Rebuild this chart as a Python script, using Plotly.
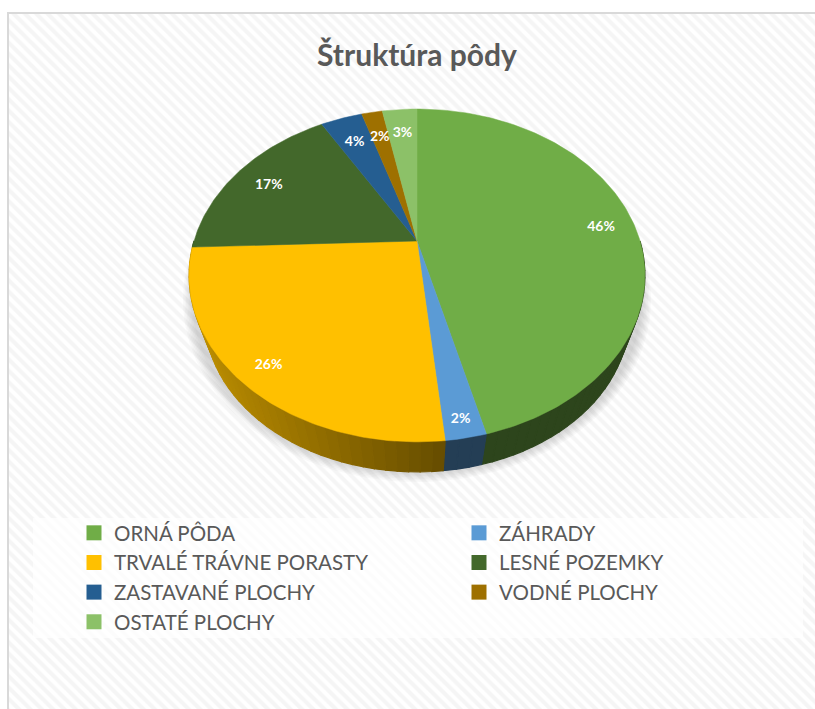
import math
import numpy as np
import plotly.graph_objects as go

# ---- data ----
categories = ["ORNÁ PÔDA", "ZÁHRADY", "TRVALÉ TRÁVNE PORASTY", "LESNÉ POZEMKY",
              "ZASTAVANÉ PLOCHY", "VODNÉ PLOCHY", "OSTATÉ PLOCHY"]
values = [46.0, 2.4, 26.0, 17.2, 3.6, 1.8, 3.0]
colors = ["#70AD47", "#5B9BD5", "#FFC000", "#43682B", "#255E91", "#9E7000", "#8CC168"]
title_text = "Štruktúra pôdy"
label_radius = [0.85, 0.91, 0.875, 0.82, 0.80, 0.80, 0.81]
FONT = "Lato"

# ---- projection of the tilted disc (perspective) ----
CX, CY, A, B, C = 417.0, 241.0, 223.0, -109.4, 0.207
ELL_CY, SIDE_SCALE, SIDE_BOTTOM = 275.5, 0.93, 472.0


def project(r, t):
    sx, cy = r * np.sin(t), r * np.cos(t)
    w = 1 + C * cy
    return CX + A * sx / w, (B * cy + CY) / w


def lower(x, y):
    cy2 = SIDE_BOTTOM - 166.5 * SIDE_SCALE
    return CX + SIDE_SCALE * (x - CX), cy2 + SIDE_SCALE * (y - ELL_CY)


def shade(hex_color, f):
    r, g, b = [int(hex_color[i:i + 2], 16) for i in (1, 3, 5)]
    return f"rgb({r * f:.0f},{g * f:.0f},{b * f:.0f})"


total = sum(values)
edges = np.cumsum([0] + values) / total * 2 * math.pi
fig = go.Figure()

# hatched chart area
fig.add_trace(go.Scatter(x=[8, 815, 815, 8, 8], y=[13, 13, 709, 709, 13], mode="lines",
                         fill="toself", line=dict(width=0), fillcolor="white", hoverinfo="skip",
                         fillpattern=dict(shape="\\", size=8, solidity=0.5, fgcolor="#F5F5F5",
                                          bgcolor="white", fillmode="replace"),
                         showlegend=False))
# legend panel
fig.add_trace(go.Scatter(x=[33, 803, 803, 33, 33], y=[518, 518, 638, 638, 518], mode="lines",
                         fill="toself", line=dict(width=0), fillcolor="rgba(255,255,255,0.72)",
                         hoverinfo="skip", showlegend=False))

# soft shadow
tt = np.linspace(0, 2 * math.pi, 181)
for e in np.arange(10, 0, -1.5):
    fig.add_trace(go.Scatter(x=CX + (224 + e) * np.cos(tt), y=300 + (172 + e) * np.sin(tt),
                             mode="lines", fill="toself", line=dict(width=0),
                             fillcolor="rgba(90,90,90,0.035)", hoverinfo="skip", showlegend=False))

# side wall, drawn as narrow shaded strips
for i, col in enumerate(colors):
    t0, t1 = edges[i], edges[i + 1]
    if t1 <= math.pi / 2 or t0 >= 3 * math.pi / 2:
        continue
    lo, hi = max(t0, math.pi / 2), min(t1, 3 * math.pi / 2)
    n = max(2, int((hi - lo) / math.radians(2.5)))
    g = np.linspace(lo, hi, n + 1)
    for a, b in zip(g[:-1], g[1:]):
        xa, ya = project(1.0, a)
        xb, yb = project(1.0, b)
        xc, yc = lower(xb, yb)
        xd, yd = lower(xa, ya)
        xm = (xa + xb) / 2
        f = 0.4 if xm > 445 else 0.4 + 0.32 * (445 - xm) / 240
        c = shade(col, f)
        fig.add_trace(go.Scatter(x=[xa, xb, xc, xd, xa], y=[ya, yb, yc, yd, ya], mode="lines",
                                 fill="toself", fillcolor=c, line=dict(width=1.2, color=c),
                                 hoverinfo="skip", showlegend=False))

# top face
for i, (name, col) in enumerate(zip(categories, colors)):
    g = np.linspace(edges[i], edges[i + 1], max(3, int(values[i] * 4)))
    px, py = project(1.0, g)
    fig.add_trace(go.Scatter(x=np.r_[CX, px, CX], y=np.r_[CY, py, CY], mode="lines",
                             fill="toself", fillcolor=col, line=dict(width=0.5, color=col),
                             name=name, text=f"{name}: {values[i]:.1f} %", hoverinfo="text",
                             showlegend=False))

# data labels
mids = (edges[:-1] + edges[1:]) / 2
lx, ly = project(np.array(label_radius), mids)
fig.add_trace(go.Scatter(x=lx, y=ly + 3, mode="text", text=[f"{v:.0f}%" for v in values],
                         textposition="middle center",
                         textfont=dict(family=FONT, size=14, color="white", weight="bold"),
                         hoverinfo="skip", showlegend=False))

# legend entries: two columns, one legend each
for i, (name, col) in enumerate(zip(categories, colors)):
    fig.add_trace(go.Scatter(x=[None], y=[None], mode="markers", name=name,
                             legend="legend" if i % 2 == 0 else "legend2",
                             marker=dict(symbol="square", size=15, color=col)))

legend_style = dict(orientation="v", xanchor="left", yanchor="top", y=1 - 513 / 709,
                    bgcolor="rgba(0,0,0,0)", traceorder="normal",
                    font=dict(family=FONT, size=20.5, color="#595959"))

fig.update_layout(
    width=815, height=709, autosize=False,
    margin=dict(l=0, r=0, t=0, b=0),
    paper_bgcolor="white", plot_bgcolor="white",
    xaxis=dict(range=[0, 815], visible=False, fixedrange=True),
    yaxis=dict(range=[709, 0], visible=False, fixedrange=True),
    title=dict(text=f"<b>{title_text}</b>", x=417 / 815, xanchor="center", y=1 - 55 / 709,
               yanchor="middle", font=dict(family=FONT, size=30, color="#595959")),
    legend=dict(x=74 / 815, **legend_style),
    legend2=dict(x=459 / 815, **legend_style),
    shapes=[
        dict(type="line", x0=8, x1=8, y0=12, y1=709, line=dict(color="#D9D9D9", width=2), layer="above"),
        dict(type="line", x0=7, x1=815, y0=13, y1=13, line=dict(color="#D9D9D9", width=2), layer="above"),
    ],
)

fig.write_html("out.html", config={"displayModeBar": False},
               post_script="document.body.style.margin='0';")
